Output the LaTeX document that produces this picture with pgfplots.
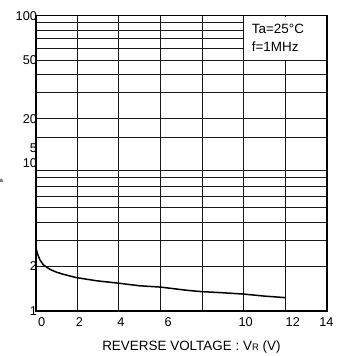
\documentclass[border=0pt]{standalone}
\usepackage{fontspec}
\setmainfont{Liberation Sans}
\usepackage{pgfplots}
\pgfplotsset{compat=1.18}
\begin{document}
\begin{tikzpicture}
\begin{axis}[
  scale only axis, width=291bp, height=295.2bp,
  at={(0,0)}, anchor=south west,
  xmin=0, xmax=14, ymode=log, ymin=1, ymax=100,
  xtick={0.29,2.1,4.1,6.37,10.1,12.37,13.99},
  xticklabels={0,2,4,6,10,12,14},
  minor xtick={2,4,6,8,10,12},
  ytick={1,2,10,12.7,20,50,100},
  yticklabels={1,2,10,5,20,50,100},
  minor ytick={2,3,4,5,6,7,8,9,15,20,30,40,50,60,70,80,90},
  major tick length=0pt, minor tick length=0pt,
  xmajorgrids=false, ymajorgrids=false, xminorgrids=true, yminorgrids=true,
  minor grid style={black!90, line width=0.85bp},
  axis line style={line width=1.6bp},
  tick label style={font=\fontsize{12.8}{14}\selectfont},
  xticklabel style={anchor=base, inner sep=0pt, yshift=-16bp},
  yticklabel style={anchor=east, inner sep=0pt, xshift=1.5bp},
  clip=true,
]
\addplot[black, line width=1.5bp, mark=none] coordinates {
(0,2.72) (0.05,2.55) (0.11,2.39) (0.2,2.22) (0.37,2.05) (0.69,1.91)
(1.0,1.83) (1.33,1.77) (1.97,1.68) (2.93,1.60) (4.0,1.54) (5.0,1.48)
(6.0,1.45) (7.26,1.38) (8.0,1.35) (8.9,1.33) (10.0,1.30) (11.0,1.26) (12.0,1.23)
};
\fill[white] ([xshift=0.5bp,yshift=0.5bp]axis cs:10,50) rectangle ([xshift=-0.9bp,yshift=-0.9bp]axis cs:14,100);
\end{axis}
\node[anchor=base west, inner sep=0pt, font=\fontsize{13.5}{16}\selectfont] at (216bp,277.6bp) {Ta=25°C};
\node[anchor=base west, inner sep=0pt, font=\fontsize{13.5}{16}\selectfont] at (216bp,259.6bp) {f=1MHz};
\node[anchor=base, inner sep=0pt, font=\fontsize{13.5}{15}\selectfont] at (155.7bp,-39.8bp) {REVERSE VOLTAGE : V{\fontsize{9.5}{9.5}\selectfont R} (V)};
\node[anchor=center, inner sep=0pt, font=\fontsize{6}{7}\selectfont] at (-34.5bp,130bp) {a};
\pgfresetboundingbox
\path[use as bounding box] (-35.7bp,-45.1bp) rectangle (303.3bp,310.9bp);
\end{tikzpicture}
\end{document}
